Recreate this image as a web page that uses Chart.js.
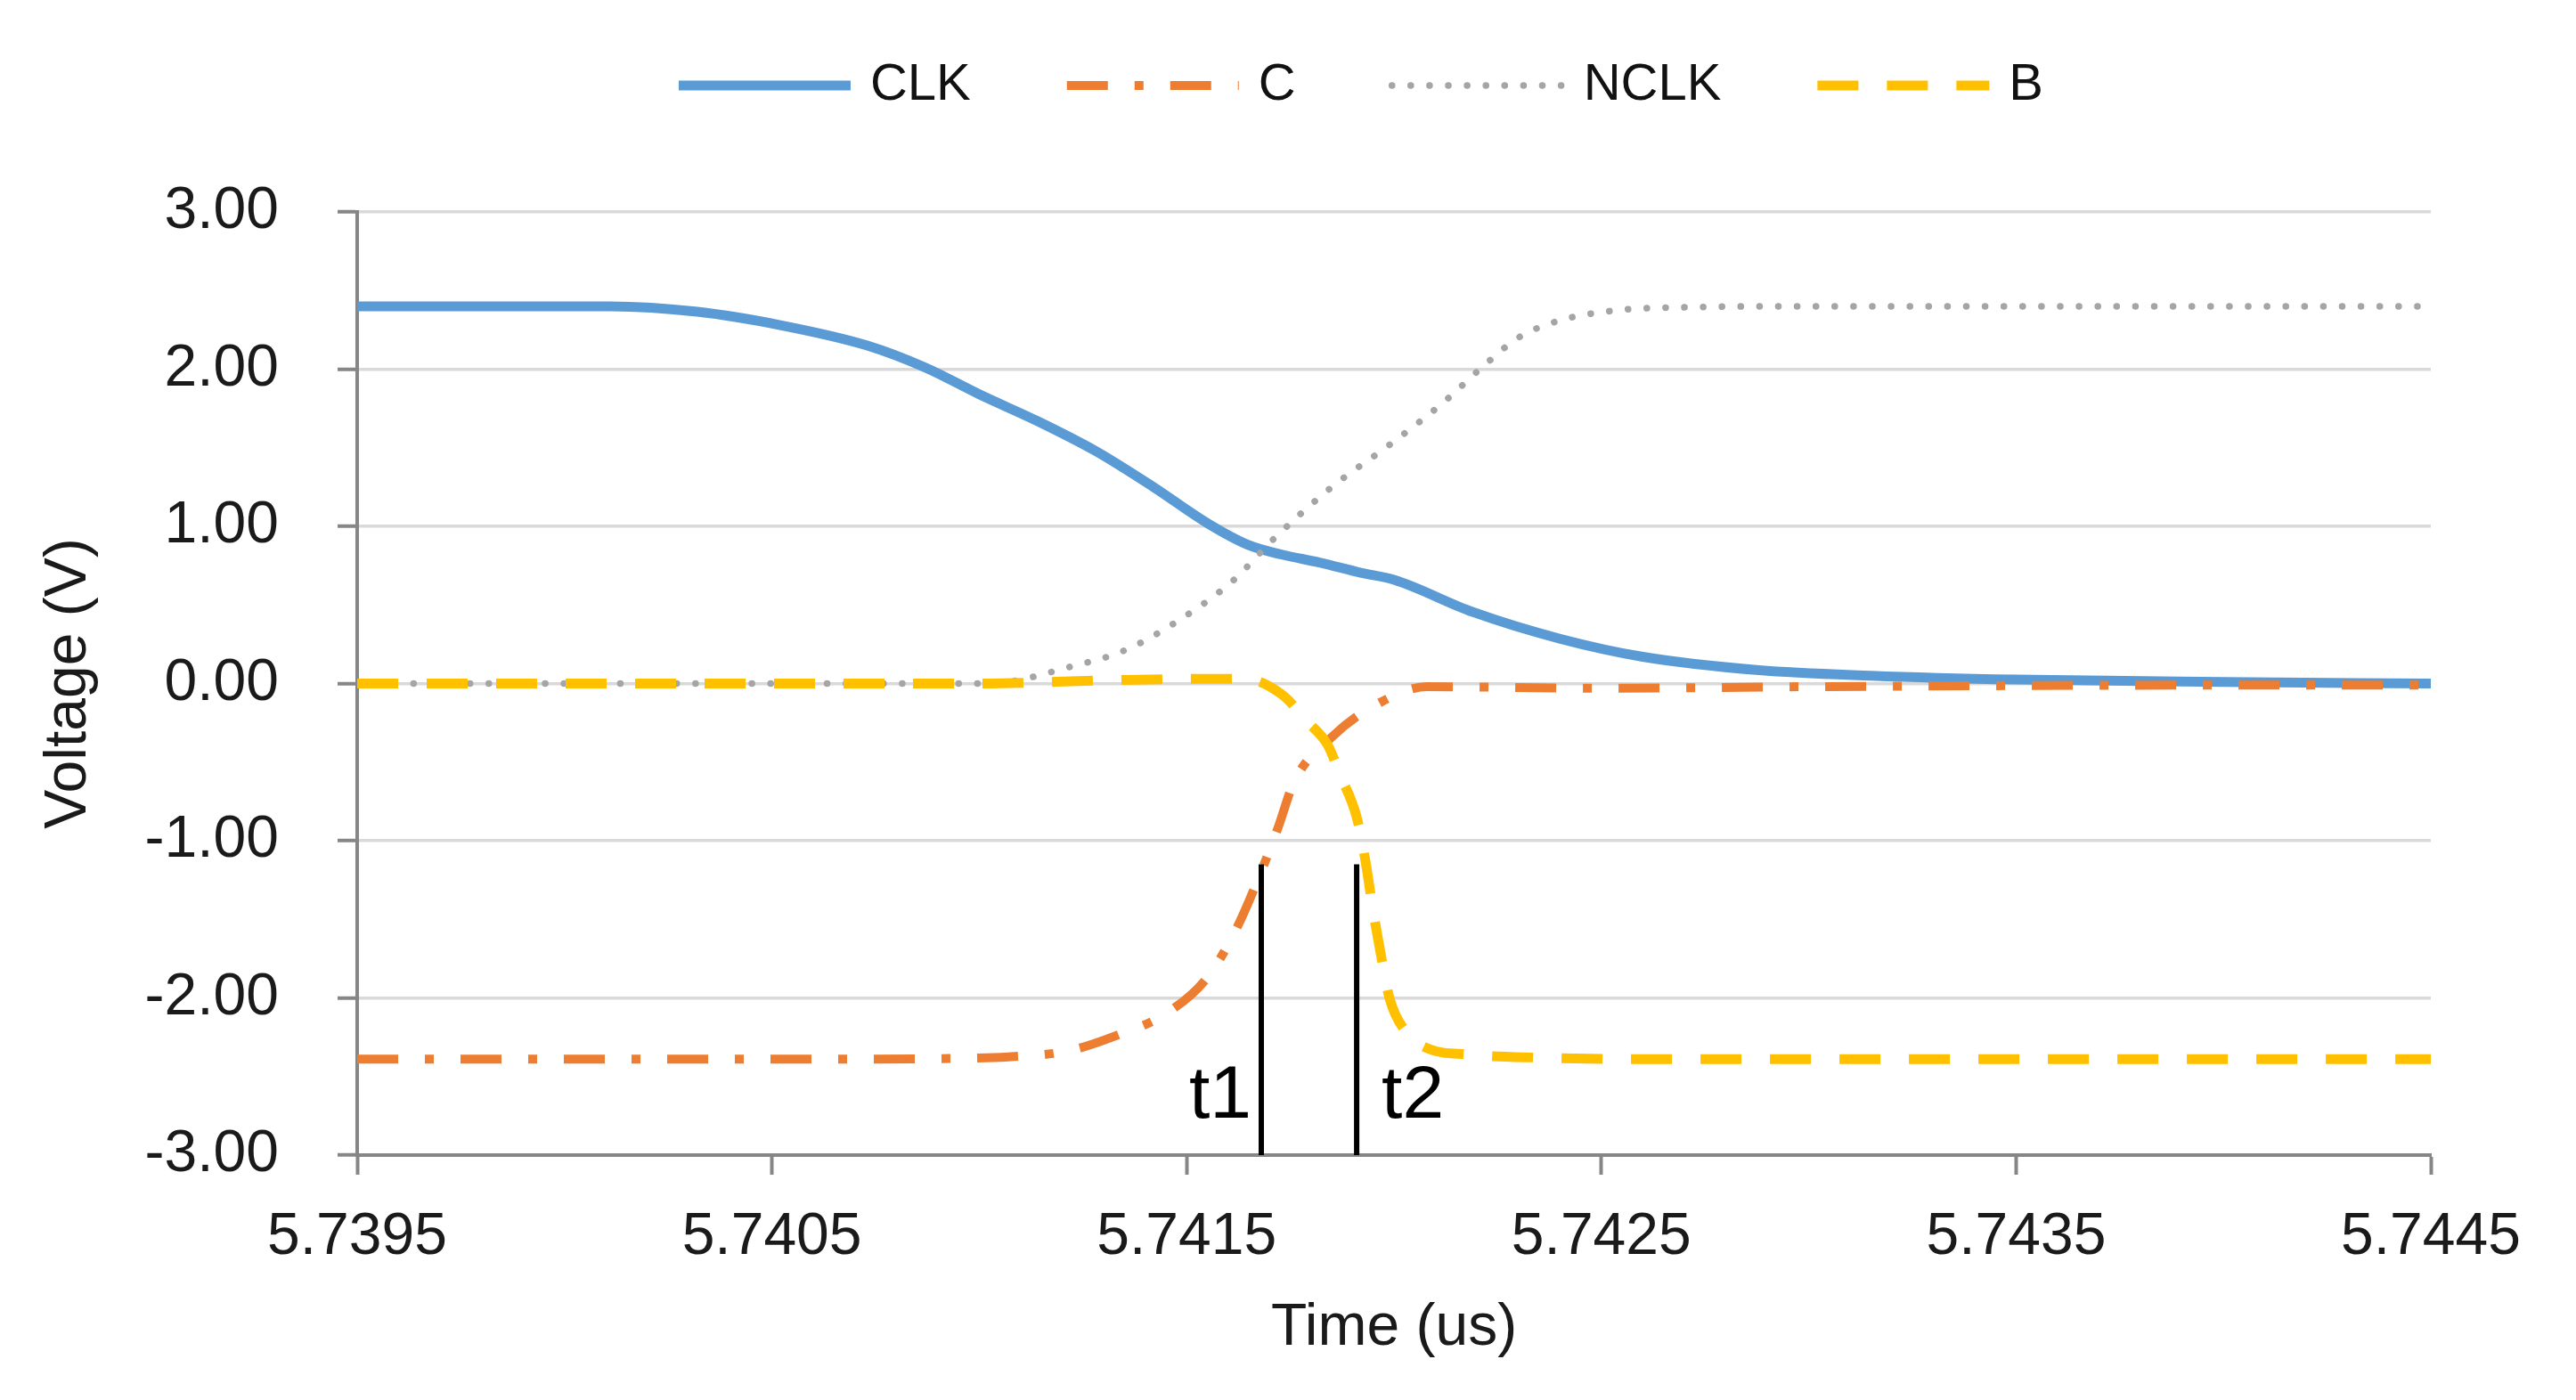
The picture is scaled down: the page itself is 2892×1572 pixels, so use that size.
<!DOCTYPE html>
<html>
<head>
<meta charset="utf-8">
<script src="https://cdn.jsdelivr.net/npm/chart.js@4.4.1/dist/chart.umd.min.js"></script>
<style>
  html, body { margin: 0; padding: 0; background: #fff; }
  #wrap { width: 2892px; height: 1572px; }
</style>
</head>
<body>
<div id="wrap"><canvas id="grafico"></canvas></div>
<script>
// Eixos
const xTicks = [5.7395, 5.7405, 5.7415, 5.7425, 5.7435, 5.7445];
const yTicks = [-3, -2, -1, 0, 1, 2, 3];

// CLK
const clkT = [5.7395, 5.7400, 5.74011, 5.74032, 5.74052, 5.74073, 5.74087, 5.74100, 5.74114, 5.74128,
  5.74142, 5.74155, 5.74165, 5.74173, 5.74182, 5.74192, 5.74200, 5.74219, 5.74240, 5.74260,
  5.74288, 5.74315, 5.7435, 5.7440, 5.7445];
const clkV = [2.40, 2.40, 2.40, 2.365, 2.28, 2.15, 2.01, 1.84, 1.67, 1.48,
  1.25, 1.02, 0.88, 0.82, 0.77, 0.705, 0.66, 0.455, 0.285, 0.17,
  0.085, 0.05, 0.025, 0.01, 0.00];

// C
const cT = [5.7395, 5.7405, 5.74094, 5.74107, 5.74121, 5.74133, 5.74145, 5.74155, 5.74162, 5.74167,
  5.74172, 5.74176, 5.74185, 5.74196, 5.74208, 5.7425, 5.7430, 5.7440, 5.7445];
const cV = [-2.39, -2.39, -2.385, -2.375, -2.34, -2.24, -2.10, -1.87, -1.56, -1.26,
  -0.92, -0.62, -0.34, -0.13, -0.02, -0.03, -0.02, -0.01, -0.01];

// NCLK
const nclkT = [5.7395, 5.7405, 5.7410, 5.74107, 5.74121, 5.74135, 5.74148, 5.74161, 5.74171, 5.74185,
  5.74199, 5.74212, 5.74222, 5.74230, 5.74240, 5.74254, 5.74274, 5.7430, 5.7445];
const nclkV = [0.00, 0.00, 0.00, 0.01, 0.10, 0.21, 0.40, 0.65, 0.92, 1.25,
  1.52, 1.79, 2.03, 2.20, 2.31, 2.375, 2.395, 2.40, 2.40];

// B
const bT = [5.7395, 5.7410, 5.7413, 5.74155, 5.74164, 5.74173, 5.74179, 5.74184, 5.74187, 5.74191,
  5.74193, 5.74195, 5.74197, 5.74199, 5.74203, 5.74208, 5.74218, 5.74235, 5.7426, 5.7445];
const bV = [0.00, 0.00, 0.02, 0.03, 0.03, -0.07, -0.24, -0.39, -0.58, -0.85,
  -1.11, -1.45, -1.75, -2.01, -2.22, -2.32, -2.36, -2.38, -2.39, -2.39];

// Marcadores t1 / t2
const markerT = [5.74168, 5.74191];
const markerLabels = ["t1", "t2"];
const markerTop = -1.15;

const FONT = "'Liberation Sans', Arial, sans-serif";
const AXIS = "#868686";

function pontos(ts, vs) {
  return ts.map((t, i) => ({ x: t, y: vs[i] }));
}

// Legenda desenhada à mão (linhas longas como no Excel)
const legendaLinhas = {
  id: "legendaLinhas",
  afterDraw(chart, args, o) {
    const ctx = chart.ctx;
    ctx.save();
    ctx.font = o.font;
    const itens = chart.data.datasets.map((ds) => ({
      ds,
      w: o.lineLength + o.textGap + ctx.measureText(ds.label).width
    }));
    const total = itens.reduce((s, it) => s + it.w, 0) + o.itemGap * (itens.length - 1);
    let x = o.centerX - total / 2;
    itens.forEach(({ ds, w }) => {
      ctx.beginPath();
      ctx.setLineDash(ds.borderDash || []);
      ctx.lineCap = ds.borderCapStyle || "butt";
      ctx.lineWidth = ds.borderWidth;
      ctx.strokeStyle = ds.borderColor;
      ctx.moveTo(x, o.y);
      ctx.lineTo(x + o.lineLength, o.y);
      ctx.stroke();
      ctx.setLineDash([]);
      ctx.fillStyle = "#111";
      ctx.textAlign = "left";
      ctx.textBaseline = "middle";
      ctx.fillText(ds.label, x + o.lineLength + o.textGap, o.y);
      x += w + o.itemGap;
    });
    ctx.restore();
  }
};

// Linhas verticais t1 / t2
const marcadores = {
  id: "marcadores",
  afterDatasetsDraw(chart, args, o) {
    const { ctx, scales: { x, y } } = chart;
    ctx.save();
    ctx.strokeStyle = "#000";
    ctx.lineWidth = 6;
    ctx.fillStyle = "#000";
    ctx.font = o.font;
    ctx.textBaseline = "middle";
    markerT.forEach((t, i) => {
      const px = x.getPixelForValue(t);
      ctx.beginPath();
      ctx.moveTo(px, y.getPixelForValue(markerTop));
      ctx.lineTo(px, y.getPixelForValue(y.min));
      ctx.stroke();
      const ly = y.getPixelForValue(o.labelY);
      if (i === 0) {
        ctx.textAlign = "right";
        ctx.fillText(markerLabels[i], px - 11, ly);
      } else {
        ctx.textAlign = "left";
        ctx.fillText(markerLabels[i], px + 28, ly);
      }
    });
    ctx.restore();
  }
};

const base = { pointRadius: 0, pointHoverRadius: 0, fill: false, cubicInterpolationMode: "monotone" };

new Chart(document.getElementById("grafico"), {
  type: "line",
  data: {
    datasets: [
      { ...base, label: "CLK", data: pontos(clkT, clkV), borderColor: "#5B9BD5", borderWidth: 11, order: 4 },
      { ...base, label: "C", data: pontos(cT, cV), borderColor: "#ED7D31", borderWidth: 10, borderDash: [46, 30, 10, 30], order: 3 },
      { ...base, label: "NCLK", data: pontos(nclkT, nclkV), borderColor: "#A5A5A5", borderWidth: 7.5, borderDash: [0.1, 21], borderCapStyle: "round", order: 2 },
      { ...base, label: "B", data: pontos(bT, bV), borderColor: "#FFC000", borderWidth: 11, borderDash: [46, 32], order: 1 }
    ]
  },
  options: {
    responsive: true,
    maintainAspectRatio: false,
    devicePixelRatio: 1,
    animation: false,
    layout: { padding: { top: 238, right: 163, bottom: 0, left: 0 } },
    plugins: {
      legend: { display: false },
      tooltip: { enabled: false },
      legendaLinhas: {
        font: "58px " + FONT,
        centerX: 1528, y: 96, lineLength: 193, textGap: 22, itemGap: 108
      },
      marcadores: { font: "84px " + FONT, labelY: -2.63 }
    },
    scales: {
      x: {
        type: "linear",
        min: xTicks[0],
        max: xTicks[xTicks.length - 1],
        afterBuildTicks: (s) => { s.ticks = xTicks.map((v) => ({ value: v })); },
        afterFit: (s) => { s.height = 275; },
        ticks: {
          padding: 31,
          color: "#1a1a1a",
          font: { family: FONT, size: 66 },
          maxRotation: 0,
          autoSkip: false,
          callback: (v) => Number(v).toFixed(4)
        },
        grid: { drawOnChartArea: false, drawTicks: true, tickLength: 22, tickColor: AXIS, tickWidth: 4 },
        border: { color: AXIS, width: 4 },
        title: {
          display: true,
          text: "Time (us)",
          color: "#1a1a1a",
          font: { family: FONT, size: 66 },
          padding: { top: 0, bottom: 41 }
        }
      },
      y: {
        min: yTicks[0],
        max: yTicks[yTicks.length - 1],
        afterBuildTicks: (s) => { s.ticks = yTicks.map((v) => ({ value: v })); },
        afterFit: (s) => { s.width = 401; },
        ticks: {
          padding: 66,
          color: "#1a1a1a",
          font: { family: FONT, size: 66 },
          callback: (v) => Number(v).toFixed(2)
        },
        grid: { color: "#d9d9d9", lineWidth: 3.5, tickLength: 22, tickColor: AXIS, tickWidth: 4 },
        border: { color: AXIS, width: 4 },
        title: {
          display: true,
          text: "Voltage (V)",
          color: "#1a1a1a",
          font: { family: FONT, size: 66 },
          padding: { top: 38, bottom: 0 }
        }
      }
    }
  },
  plugins: [legendaLinhas, marcadores]
});
</script>
</body>
</html>
